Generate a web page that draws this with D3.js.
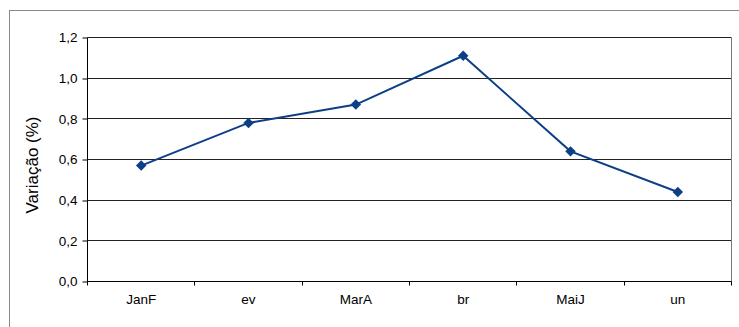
<!DOCTYPE html>
<html>
<head>
<meta charset="utf-8">
<script src="https://cdn.jsdelivr.net/npm/d3@7"></script>
<style>
  body { margin: 0; background: #fff; }
  text { font-family: "Liberation Sans", Arial, sans-serif; fill: #000; }
</style>
</head>
<body>
<div id="container"></div>
<script>
let categories = ["JanF", "ev", "MarA", "br", "MaiJ", "un"];
let values = [0.57, 0.78, 0.87, 1.11, 0.64, 0.44];
let yTicks = [0, 0.2, 0.4, 0.6, 0.8, 1.0, 1.2];
let yTitle = "Variação (%)";

let w = 739;
let h = 327;

let viz = d3.select("#container")
  .append("svg")
  .attr("width", w)
  .attr("height", h)
  .style("display", "block");

// outer chart border
viz.append("rect")
  .attr("x", 9.5).attr("y", 10.5)
  .attr("width", 740).attr("height", 330)
  .attr("fill", "#fff")
  .attr("stroke", "#888");

let plotLeft = 87.5, plotRight = 731.5, plotTop = 37.5, plotBottom = 281.5;

let xScale = d3.scaleBand().domain(categories).range([plotLeft, plotRight]);
let yScale = d3.scaleLinear().domain([0, 1.2]).range([plotBottom, plotTop]);

function snap(v) {
  return Math.round(v - 0.5) + 0.5;
}

// gridlines
viz.append("g").selectAll("line").data(yTicks).enter()
  .append("line")
  .attr("x1", plotLeft).attr("x2", plotRight)
  .attr("y1", d => snap(yScale(d)))
  .attr("y2", d => snap(yScale(d)))
  .attr("stroke", "#222")
  .attr("stroke-width", 1);

// right plot border
viz.append("line")
  .attr("x1", plotRight).attr("x2", plotRight)
  .attr("y1", plotTop).attr("y2", plotBottom)
  .attr("stroke", "#777");

// y axis
let fmt = d => d3.format(".1f")(d).replace(".", ",");
let yAxisGroup = viz.append("g")
  .attr("transform", "translate(" + plotLeft + ",0)")
  .call(d3.axisLeft(yScale).tickValues(yTicks).tickFormat(fmt).tickSize(5).tickPadding(5));
yAxisGroup.selectAll(".tick line").attr("stroke", "#000")
  .attr("transform", d => "translate(0," + (snap(yScale(d)) - yScale(d)) + ")");
yAxisGroup.select(".domain").attr("d", "M0," + plotTop + "V" + plotBottom).attr("stroke", "#000");
yAxisGroup.selectAll("text").style("font-size", "13.5px").attr("fill", "#111");

// x axis with ticks at category boundaries
let xAxisGroup = viz.append("g")
  .attr("transform", "translate(0," + plotBottom + ")");
xAxisGroup.append("line")
  .attr("x1", plotLeft).attr("x2", plotRight).attr("y1", 0).attr("y2", 0)
  .attr("stroke", "#000");
let boundaries = categories.map(c => xScale(c)).concat([plotRight]);
xAxisGroup.selectAll(".btick").data(boundaries).enter()
  .append("line")
  .attr("class", "btick")
  .attr("x1", d => snap(d)).attr("x2", d => snap(d))
  .attr("y1", 0).attr("y2", 4)
  .attr("stroke", "#000");
xAxisGroup.selectAll(".xlabel").data(categories).enter()
  .append("text")
  .attr("class", "xlabel")
  .attr("x", d => xScale(d) + xScale.bandwidth() / 2)
  .attr("y", 22)
  .attr("text-anchor", "middle")
  .style("font-size", "13.5px")
  .attr("fill", "#111")
  .text(d => d);

// y title
viz.append("text")
  .attr("transform", "translate(38,165) rotate(-90)")
  .attr("text-anchor", "middle")
  .style("font-size", "17px")
  .attr("fill", "#111")
  .text(yTitle);

// line
let data = categories.map((c, i) => ({ c: c, v: values[i] }));
let line = d3.line()
  .x(d => xScale(d.c) + xScale.bandwidth() / 2)
  .y(d => yScale(d.v));
viz.append("path")
  .datum(data)
  .attr("d", line)
  .attr("fill", "none")
  .attr("stroke", "#0d3f87")
  .attr("stroke-width", 2);

viz.selectAll(".marker").data(data).enter()
  .append("path")
  .attr("class", "marker")
  .attr("d", d3.symbol().type(d3.symbolDiamond2).size(70))
  .attr("transform", d => "translate(" + (xScale(d.c) + xScale.bandwidth() / 2) + "," + yScale(d.v) + ")")
  .attr("fill", "#0d3f87");
</script>
</body>
</html>
